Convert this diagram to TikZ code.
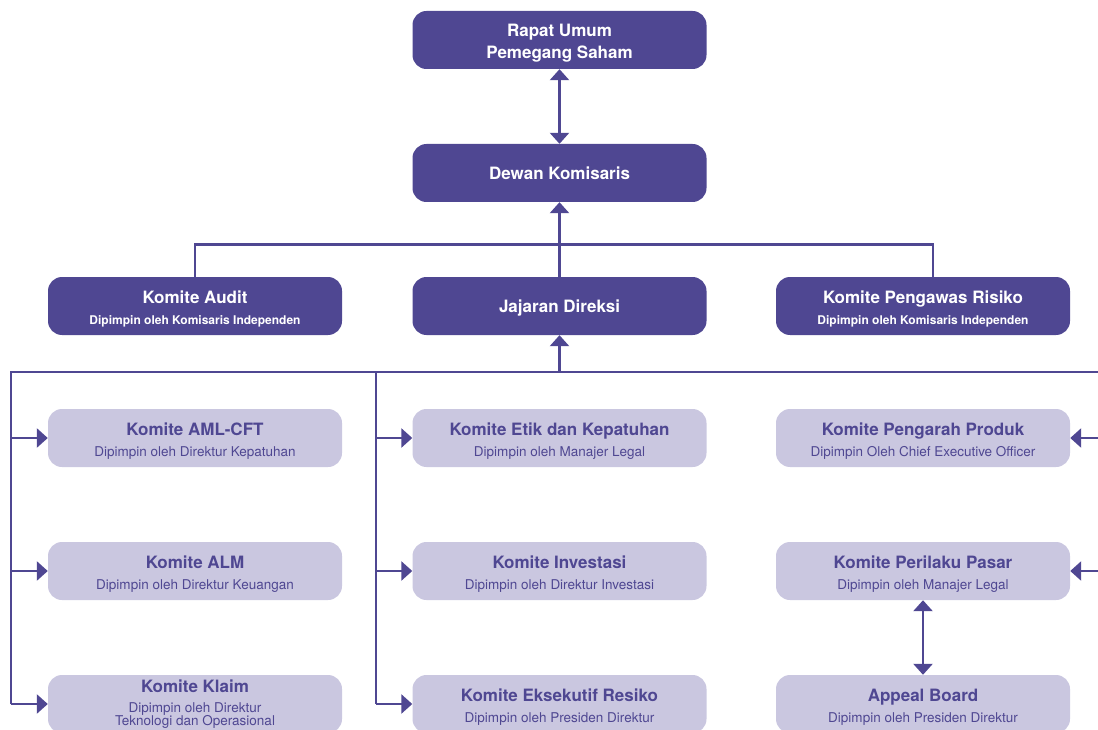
\documentclass[tikz,border=0pt]{standalone}
\usepackage{fontspec}
\setmainfont{TeX Gyre Heros}
\usetikzlibrary{arrows.meta}

\definecolor{ungu}{RGB}{79,71,146}
\definecolor{ungumuda}{RGB}{202,199,224}

\newcommand{\naik}{\rule{0pt}{19pt}}
\newcommand{\judul}[1]{{\fontsize{17}{20}\selectfont\bfseries #1}}
\newcommand{\ketdark}[1]{{\fontsize{12}{20}\selectfont\bfseries #1}}
\newcommand{\ket}[1]{{\fontsize{13.5}{20}\selectfont #1}}

\tikzset{
  box/.style={rectangle, rounded corners=14pt, minimum width=294pt,
    minimum height=58pt, align=center, inner sep=1pt,
    font=\fontsize{13}{20.5}\selectfont},
  dark/.style={box, fill=ungu, text=white},
  light/.style={box, fill=ungumuda, text=ungu},
  garis/.style={draw=ungu, line width=2.6pt},
  >={Triangle[width=19pt,length=11pt]}
}

\begin{document}
\begin{tikzpicture}[x=1pt,y=-1pt]
    \useasboundingbox (0,0) rectangle (1098,730);

    % Draw top boxes
    \node[dark, font=\fontsize{17}{22}\selectfont\bfseries] (rups) at (559.5,40) {\naik Rapat Umum\\Pemegang Saham};
    \node[dark] (dewan) at (559.5,173) {\judul{Dewan Komisaris}};

    \node[dark] (audit) at (195,306) {\naik\judul{Komite Audit}\\\ketdark{Dipimpin oleh Komisaris Independen}};
    \node[dark, text depth=0pt] (jajaran) at (559.5,306) {\judul{Jajaran Direksi}};
    \node[dark] (pengawas) at (923,306) {\naik\judul{Komite Pengawas Risiko}\\\ketdark{Dipimpin oleh Komisaris Independen}};

    % Draw committees
    \node[light] (aml) at (195,438) {\naik\judul{Komite AML-CFT}\\\ket{Dipimpin oleh Direktur Kepatuhan}};
    \node[light] (etik) at (559.5,438) {\naik\judul{Komite Etik dan Kepatuhan}\\\ket{Dipimpin oleh Manajer Legal}};
    \node[light] (pengarah) at (923,438) {\naik\judul{Komite Pengarah Produk}\\\ket{Dipimpin Oleh Chief Executive Officer}};

    \node[light] (alm) at (195,571) {\naik\judul{Komite ALM}\\\ket{Dipimpin oleh Direktur Keuangan}};
    \node[light] (investasi) at (559.5,571) {\naik\judul{Komite Investasi}\\\ket{Dipimpin oleh Direktur Investasi}};
    \node[light] (perilaku) at (923,571) {\naik\judul{Komite Perilaku Pasar}\\\ket{Dipimpin oleh Manajer Legal}};

    \node[light] (klaim) at (195,704) {\judul{Komite Klaim}\\\ket{Dipimpin oleh Direktur}\\[-8pt]\ket{Teknologi dan Operasional}};
    \node[light] (eksekutif) at (559.5,704) {\naik\judul{Komite Eksekutif Resiko}\\\ket{Dipimpin oleh Presiden Direktur}};
    \node[light] (appeal) at (923,704) {\naik\judul{Appeal Board}\\\ket{Dipimpin oleh Presiden Direktur}};

    % Draw connectors
    \draw[garis,<->] (rups) -- (dewan);
    \draw[garis,->] (jajaran) -- (dewan);
    \draw[garis] (audit.north) -- ++(0,-32) -| ([xshift=10pt]pengawas.north);

    \coordinate (busL) at (11,372);
    \coordinate (busM) at (376,372);
    \coordinate (busR) at (1104,372);
    \draw[garis] (busL |- klaim) -- (busL) -- (busR) -- (busR |- perilaku);
    \draw[garis] (busM) -- (busM |- eksekutif);
    \draw[garis,->] (jajaran.south |- busL) -- (jajaran);

    \foreach \n in {aml,alm,klaim}
      \draw[garis,->] (busL |- \n) -- (\n);
    \foreach \n in {etik,investasi,eksekutif}
      \draw[garis,->] (busM |- \n) -- (\n);
    \foreach \n in {pengarah,perilaku}
      \draw[garis,->] (busR |- \n) -- (\n);

    \draw[garis,<->] (perilaku) -- (appeal);
  \end{tikzpicture}
\end{document}
